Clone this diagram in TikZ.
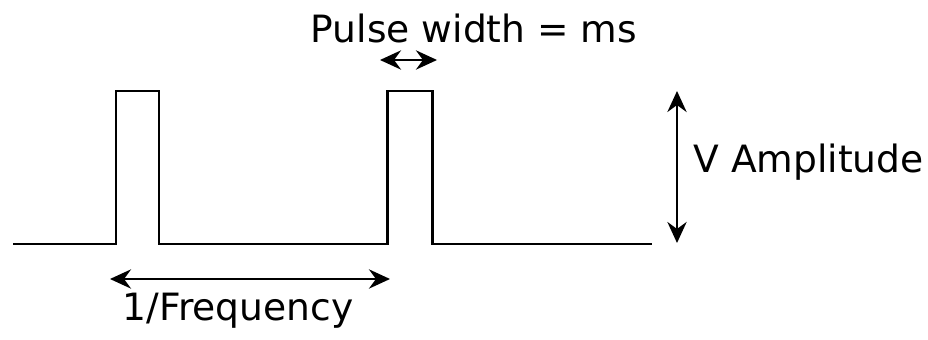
\documentclass[tikz,border=0pt]{standalone}
\usepackage{fontspec}
\setmainfont{DejaVu Sans}
\usetikzlibrary{arrows.meta}

\tikzset{
  signal/.style={line width=1.7pt, line join=miter},
  dim/.style={line width=1.1pt, {Stealth[length=12pt,width=11pt,inset=4pt]}-{Stealth[length=12pt,width=11pt,inset=4pt]}},
  lbl/.style={font=\fontsize{21.4}{25}\selectfont, inner sep=0pt}
}

\begin{document}
\begin{tikzpicture}[x=0.02cm, y=-0.02cm]

\useasboundingbox (0,0) rectangle (928,340);

% pulse train
\draw[signal] (13,244) -- (116,244) -- (116,91) -- (159,91) -- (159,244)
  -- (387,244) -- (387,91) -- (432,91) -- (432,244) -- (652,244);

% pulse width
\coordinate (pwl) at (380,60);
\coordinate (pwr) at (437,60);
\draw[dim] (pwl) -- (pwr);
\node[lbl] (pw) at (474,28) {Pulse width = ms};

% amplitude
\coordinate (amptop) at (677,91);
\coordinate (ampbot) at (677,243);
\draw[dim] (amptop) -- (ampbot);
\node[lbl, anchor=west] (amp) at (693,162) {V Amplitude};

% period
\coordinate (perl) at (110,279);
\coordinate (perr) at (390,279);
\draw[dim] (perl) -- (perr);
\node[lbl] (per) at (238,311) {1/Frequency};

\end{tikzpicture}
\end{document}
